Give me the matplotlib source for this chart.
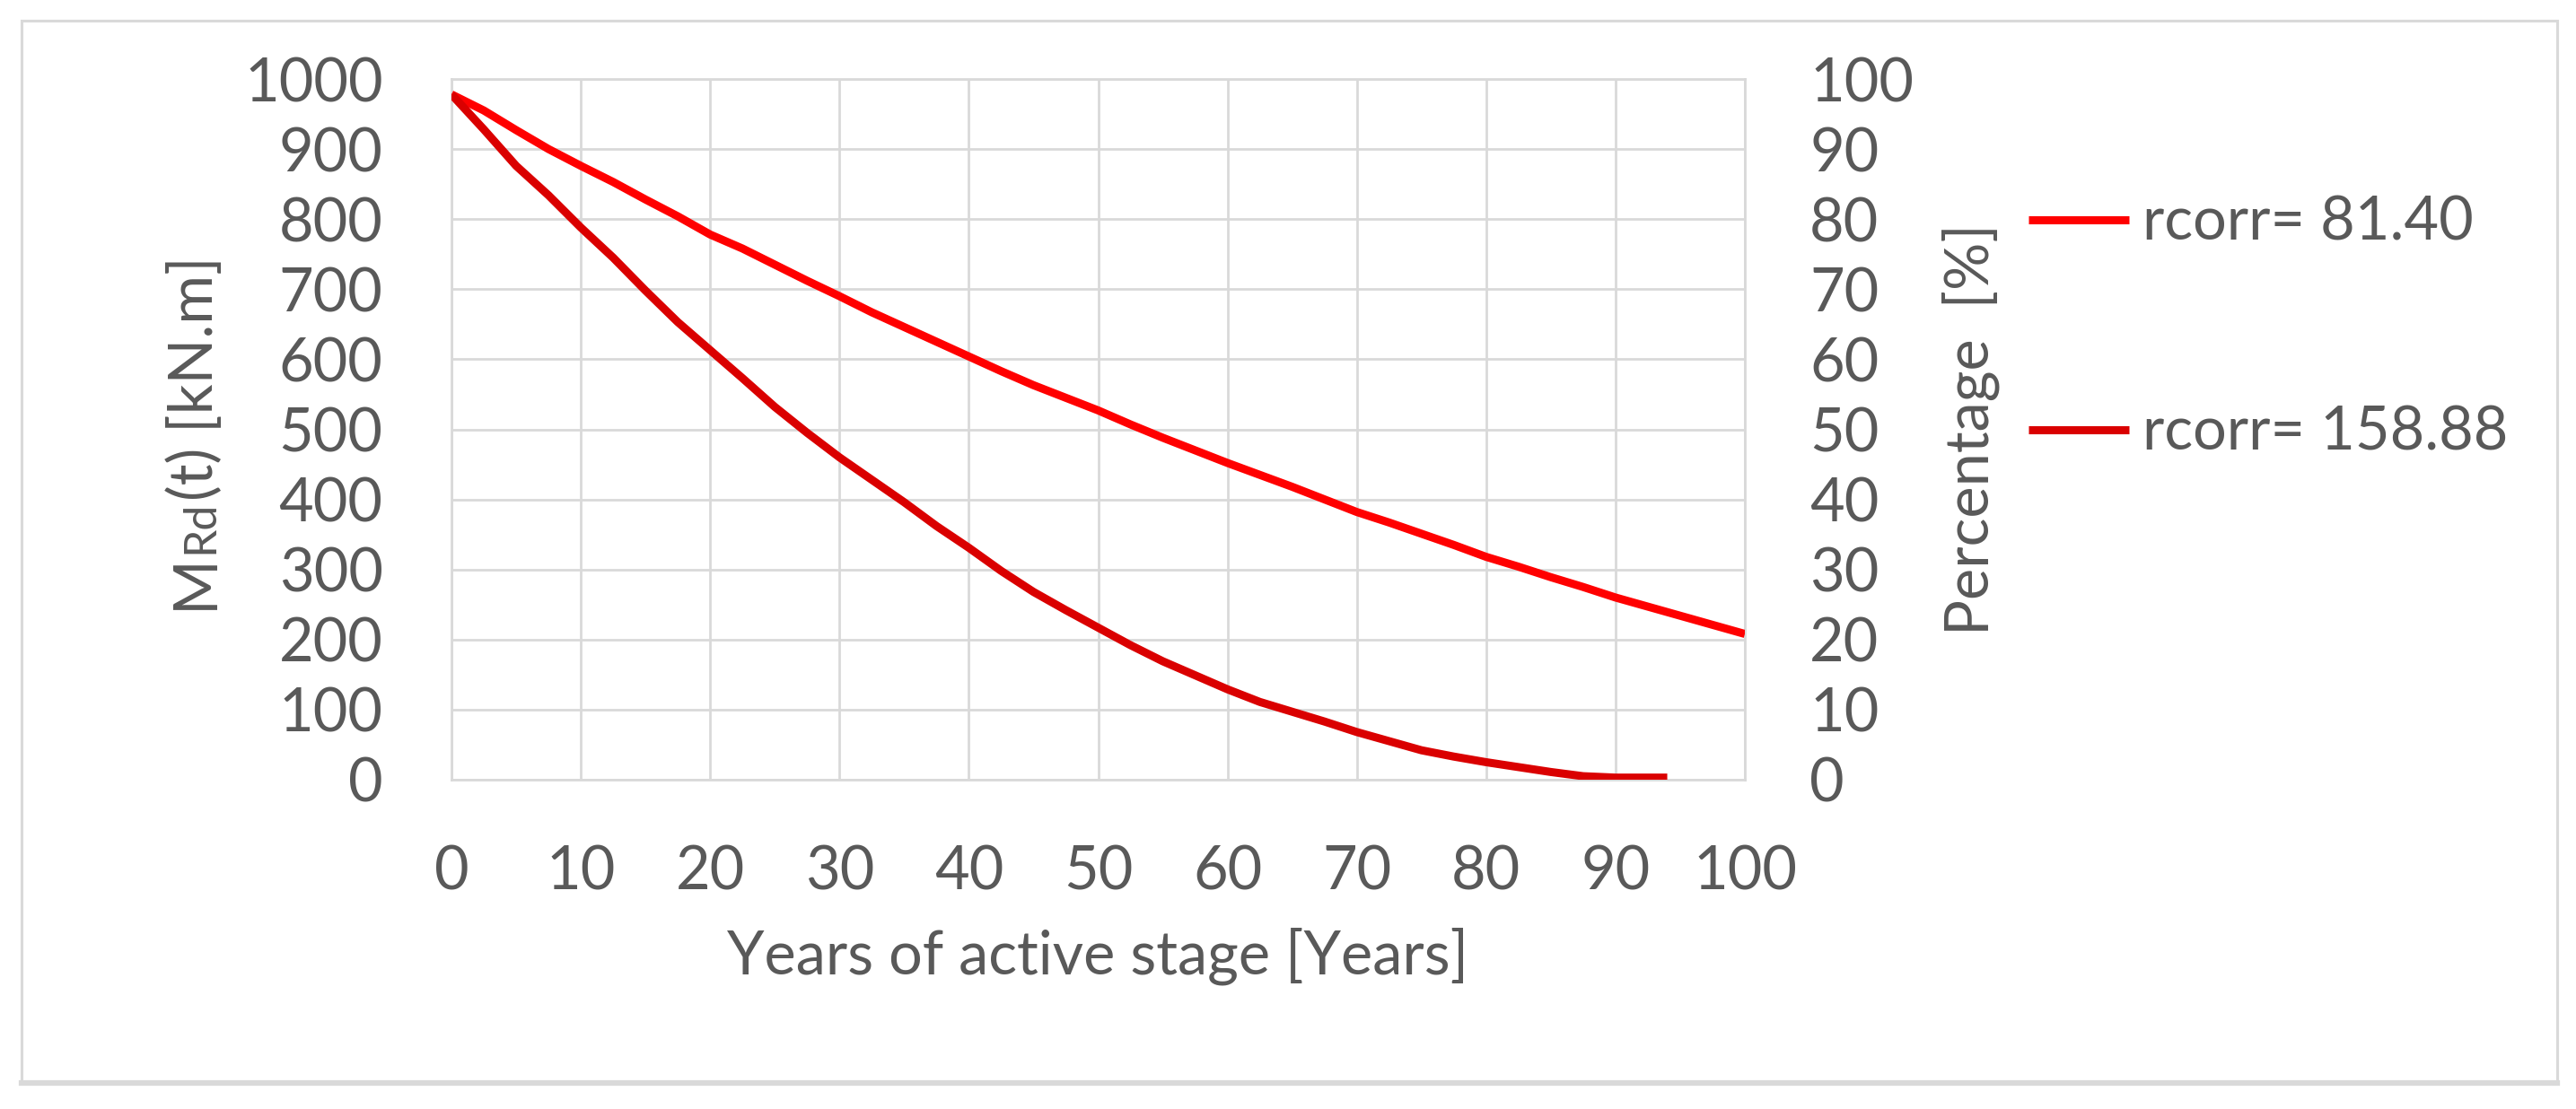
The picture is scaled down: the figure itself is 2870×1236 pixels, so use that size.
import numpy as np
import matplotlib
matplotlib.use('Agg')
import matplotlib.pyplot as plt
from matplotlib.font_manager import FontProperties
from matplotlib.patches import Rectangle
from matplotlib.lines import Line2D

# values (MRd in kN.m)
years_a = [0, 2.5, 5, 7.5, 10, 12.5, 15, 17.5, 20, 22.5, 25, 27.5, 30, 32.5, 35, 37.5, 40,
           42.5, 45, 47.5, 50, 52.5, 55, 57.5, 60, 62.5, 65, 67.5, 70, 72.5, 75, 77.5, 80,
           82.5, 85, 87.5, 90, 92.5, 95, 97.5, 100]
mrd_a = [978, 955, 927, 900, 876, 853, 828, 804, 778, 758, 735, 712, 690, 667, 646, 625, 604,
         583, 563, 545, 527, 507, 488, 470, 452, 435, 418, 400, 382, 367, 351, 335, 318,
         304, 289, 275, 260, 247, 234, 221, 208]

years_b = [0, 2.5, 5, 7.5, 10, 12.5, 15, 17.5, 20, 22.5, 25, 27.5, 30, 32.5, 35, 37.5, 40,
           42.5, 45, 47.5, 50, 52.5, 55, 57.5, 60, 62.5, 65, 67.5, 70, 72.5, 75, 77.5, 80,
           82.5, 85, 87.5, 90, 92.5, 94]
mrd_b = [978, 928, 876, 834, 788, 745, 698, 653, 613, 573, 532, 495, 460, 428, 396, 362, 331,
         298, 268, 242, 217, 192, 169, 149, 129, 111, 97, 83, 68, 55, 42, 33, 25,
         18, 11, 5, 3, 3, 3]

labels = ['rcorr= 81.40', 'rcorr= 158.88']
colors = ['#FF0000', '#DA0000']

x_ticks = list(range(0, 101, 10))
y_ticks = list(range(0, 1001, 100))
pct_ticks = list(range(0, 101, 10))

FONT = ['Lato', 'DejaVu Sans']
FS = 48
TEXT = '#595959'
GRID = '#D9D9D9'
W, H, DPI = 2870, 1236, 100

plt.rcParams['font.family'] = FONT
plt.rcParams['font.size'] = FS

fig = plt.figure(figsize=(W / DPI, H / DPI), dpi=DPI)
ax = fig.add_axes([503 / W, 1 - 869 / H, (1944 - 503) / W, (869 - 88) / H])

ax.plot(years_a, mrd_a, color=colors[0], lw=6.5, label=labels[0], solid_capstyle='butt', zorder=3)
ax.plot(years_b, mrd_b, color=colors[1], lw=6.5, label=labels[1], solid_capstyle='butt', zorder=3)

ax.set_xlim(0, 100)
ax.set_ylim(0, 1000)
ax.set_xticks(x_ticks)
ax.set_yticks(y_ticks)
ax.grid(True, color=GRID, lw=2, zorder=0)
ax.set_axisbelow(True)
for s in ax.spines.values():
    s.set_color(GRID)
    s.set_linewidth(2)
ax.tick_params(axis='y', length=0, pad=55, labelcolor=TEXT, labelsize=FS)
ax.tick_params(axis='x', length=0, pad=52, labelcolor=TEXT, labelsize=FS)

ax.set_xlabel('Years of active stage [Years]', color=TEXT, fontsize=FS)
ax.xaxis.set_label_coords(0.5, -0.211)

# right axis in percent
ax2 = ax.twinx()
ax2.set_ylim(0, 100)
ax2.set_yticks(pct_ticks)
ax2.tick_params(axis='y', length=0, pad=52, labelcolor=TEXT, labelsize=FS)
for s in ax2.spines.values():
    s.set_visible(False)
ax2.set_ylabel('Percentage  [%]', color=TEXT, fontsize=FS)
ax2.yaxis.set_label_coords(1.152, 0.5)

# legend outside, right of the percent axis
handles, labs = ax.get_legend_handles_labels()
fig.legend(handles, labs, loc='center left', bbox_to_anchor=(2260 / W, 1 - 366 / H),
           frameon=False, borderpad=0, borderaxespad=0, handlelength=1.68,
           handletextpad=0.22, labelspacing=2.58, labelcolor=TEXT, fontsize=FS)

# left axis title: M with smaller "Rd", built from rotated pieces
fig.canvas.draw()
renderer = fig.canvas.get_renderer()
parts = [('M', FS), ('Rd', FS * 0.75), ('(t) [kN.m]', FS)]
widths = []
for s, size in parts:
    w, h, d = renderer.get_text_width_height_descent(s, FontProperties(family=FONT, size=size), ismath=False)
    widths.append(w)
y = (H - 482) - sum(widths) / 2
for (s, size), w in zip(parts, widths):
    fig.text(237 / W, y / H, s, fontsize=size, rotation=90, rotation_mode='anchor',
             ha='left', va='baseline', color=TEXT)
    y += w

# outer frame
fig.patches.append(Rectangle((24 / W, 1 - 1206 / H), (2849 - 24) / W, (1206 - 23) / H,
                             transform=fig.transFigure, fill=False, ec=GRID, lw=2.2))
fig.lines.append(Line2D([24 / W, 2849 / W], [1 - 1207 / H, 1 - 1207 / H],
                        transform=fig.transFigure, color=GRID, lw=4.5))

fig.savefig('out.png', dpi=DPI, facecolor='white')
